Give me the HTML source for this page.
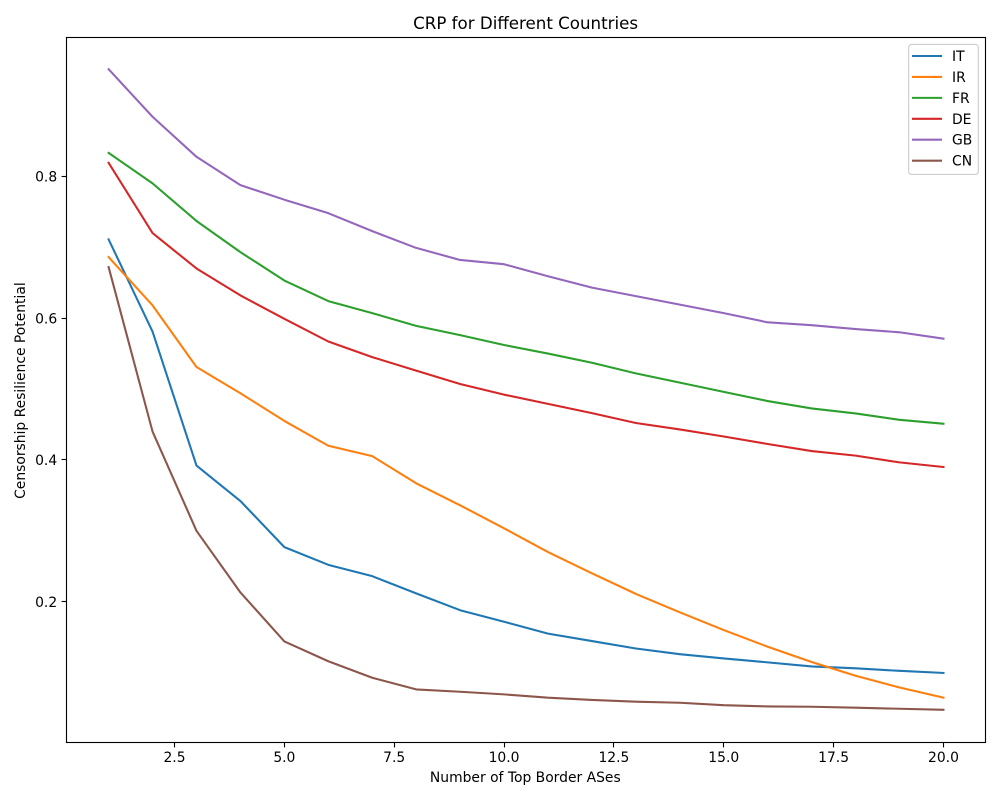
<!DOCTYPE html>
<html>
<head>
<meta charset="utf-8">
<title>CRP for Different Countries</title>
<style>
html,body{margin:0;padding:0;background:#fff;}
svg{display:block;}
text{font-family:"DejaVu Sans",sans-serif;fill:#000;}
</style>
</head>
<body>
<svg id="chart" xmlns="http://www.w3.org/2000/svg" width="1000" height="800" viewBox="0 0 1000 800">
<rect x="0" y="0" width="1000" height="800" fill="#ffffff"/>
<text x="525.6" y="29" font-size="16.67" text-anchor="middle">CRP for Different Countries</text>
<text x="525.3" y="782" font-size="13.89" text-anchor="middle">Number of Top Border ASes</text>
<text transform="translate(25,390.6) rotate(-90)" font-size="13.89" text-anchor="middle">Censorship Resilience Potential</text>
<g id="x-ticks"></g>
<g id="y-ticks"></g>
<g id="series"></g>
<rect x="66.5" y="37.5" width="919" height="705" fill="none" stroke="#000" stroke-width="1.11"/>
<rect x="908.7" y="44.4" width="69.6" height="130" rx="2.8" ry="2.8" fill="#fff" fill-opacity="0.8" stroke="#cccccc" stroke-width="1.11"/>
<g id="legend"></g>
</svg>
<script>
const xValues = [1,2,3,4,5,6,7,8,9,10,11,12,13,14,15,16,17,18,19,20];
const seriesNames = ["IT","IR","FR","DE","GB","CN"];
const seriesColors = ["#1f77b4","#ff7f0e","#2ca02c","#d62728","#9467bd","#8c564b"];
const valuesIT = [0.711,0.581,0.392,0.342,0.277,0.252,0.236,0.2117,0.188,0.1717,0.155,0.1445,0.134,0.126,0.120,0.1144,0.1087,0.106,0.1025,0.0995];
const valuesIR = [0.686,0.618,0.531,0.494,0.455,0.420,0.4053,0.367,0.336,0.3035,0.270,0.240,0.211,0.185,0.160,0.1365,0.115,0.0955,0.079,0.0647];
const valuesFR = [0.833,0.790,0.737,0.693,0.653,0.624,0.607,0.589,0.576,0.562,0.550,0.537,0.522,0.509,0.496,0.483,0.4726,0.4655,0.4565,0.451];
const valuesDE = [0.819,0.720,0.670,0.632,0.599,0.567,0.545,0.526,0.507,0.492,0.479,0.466,0.452,0.443,0.433,0.4224,0.4125,0.406,0.3965,0.390];
const valuesGB = [0.951,0.884,0.8275,0.7875,0.767,0.748,0.7227,0.699,0.682,0.676,0.659,0.643,0.631,0.619,0.607,0.594,0.590,0.5845,0.580,0.571];
const valuesCN = [0.672,0.440,0.300,0.213,0.144,0.116,0.0927,0.0763,0.073,0.0693,0.0646,0.0615,0.059,0.0575,0.054,0.0523,0.0518,0.0505,0.049,0.0475];
const xTickValues = [2.5,5.0,7.5,10.0,12.5,15.0,17.5,20.0];
const xTickLabels = ["2.5","5.0","7.5","10.0","12.5","15.0","17.5","20.0"];
const yTickValues = [0.2,0.4,0.6,0.8];
const yTickLabels = ["0.2","0.4","0.6","0.8"];

const allSeries = [valuesIT,valuesIR,valuesFR,valuesDE,valuesGB,valuesCN];
const NS = "http://www.w3.org/2000/svg";
function xScale(v){ return 108.6 + (v - 1) * 43.94; }
function yScale(v){ return 176.3 + (0.8 - v) * 709; }
function snap(p){ return Math.floor(p) + 0.5; }

const xTicksGroup = document.getElementById("x-ticks");
xTickValues.forEach(function(v,i){
  const tick = document.createElementNS(NS,"line");
  
  
  tick.setAttribute("x1", snap(xScale(v)));
  tick.setAttribute("x2", snap(xScale(v)));
  tick.setAttribute("y1", 742.5);
  tick.setAttribute("y2", 747.4);
  tick.setAttribute("stroke", "#000");
  tick.setAttribute("stroke-width", "1.11");
  xTicksGroup.appendChild(tick);
  const label = document.createElementNS(NS,"text");
  
  
  label.setAttribute("x", xScale(v));
  label.setAttribute("y", 762);
  label.setAttribute("font-size", "13.89");
  label.setAttribute("text-anchor", "middle");
  label.textContent = xTickLabels[i];
  xTicksGroup.appendChild(label);
});

const yTicksGroup = document.getElementById("y-ticks");
yTickValues.forEach(function(v,i){
  const tick = document.createElementNS(NS,"line");
  
  
  tick.setAttribute("x1", 61.6);
  tick.setAttribute("x2", 66.5);
  tick.setAttribute("y1", snap(yScale(v)));
  tick.setAttribute("y2", snap(yScale(v)));
  tick.setAttribute("stroke", "#000");
  tick.setAttribute("stroke-width", "1.11");
  yTicksGroup.appendChild(tick);
  const label = document.createElementNS(NS,"text");
  
  
  label.setAttribute("x", 57.2);
  label.setAttribute("y", yScale(v) + 5.2);
  label.setAttribute("font-size", "13.89");
  label.setAttribute("text-anchor", "end");
  label.textContent = yTickLabels[i];
  yTicksGroup.appendChild(label);
});

const seriesGroup = document.getElementById("series");
allSeries.forEach(function(values,s){
  const points = values.map(function(v,i){ return xScale(xValues[i]).toFixed(2) + "," + yScale(v).toFixed(2); }).join(" ");
  const line = document.createElementNS(NS,"polyline");
  
  
  line.setAttribute("points", points);
  line.setAttribute("fill", "none");
  line.setAttribute("stroke", seriesColors[s]);
  line.setAttribute("stroke-width", "2.08");
  line.setAttribute("stroke-linecap", "square");
  line.setAttribute("stroke-linejoin", "round");
  seriesGroup.appendChild(line);
});

const legendGroup = document.getElementById("legend");
seriesNames.forEach(function(name,i){
  const rowY = 56 + i * 20.93;
  const handle = document.createElementNS(NS,"line");
  
  
  handle.setAttribute("x1", 913);
  handle.setAttribute("x2", 941);
  handle.setAttribute("y1", rowY);
  handle.setAttribute("y2", rowY);
  handle.setAttribute("stroke", seriesColors[i]);
  handle.setAttribute("stroke-width", "2.08");
  handle.setAttribute("stroke-linecap", "square");
  legendGroup.appendChild(handle);
  const label = document.createElementNS(NS,"text");
  
  
  label.setAttribute("x", 952);
  label.setAttribute("y", rowY + 5);
  label.setAttribute("font-size", "13.89");
  label.textContent = name;
  legendGroup.appendChild(label);
});
</script>
</body>
</html>
